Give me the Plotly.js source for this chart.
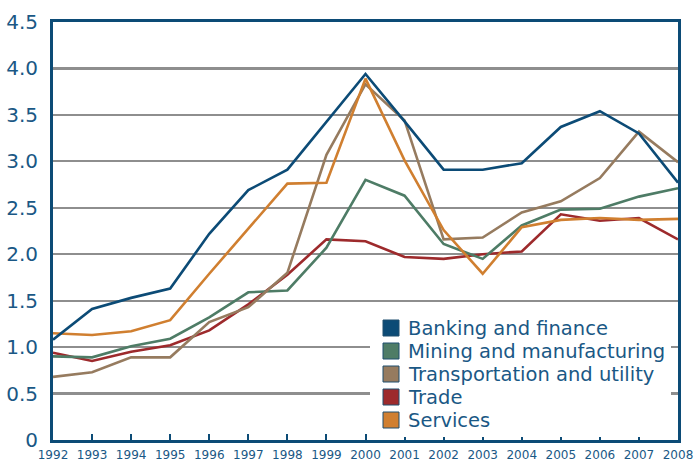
<!DOCTYPE html>
<html>
<head>
<meta charset="utf-8">
<script src="https://cdn.plot.ly/plotly-3.0.1.min.js"></script>
<style>html,body{margin:0;padding:0;background:#fff;}#chart{width:694px;height:463px;}</style>
</head>
<body>
<div id="chart"></div>
<script>
var years = [1992,1993,1994,1995,1996,1997,1998,1999,2000,2001,2002,2003,2004,2005,2006,2007,2008];
var banking   = [1.08,1.41,1.53,1.63,2.22,2.69,2.91,3.42,3.94,3.43,2.91,2.91,2.98,3.37,3.54,3.30,2.77];
var mining    = [0.90,0.89,1.01,1.09,1.32,1.59,1.61,2.07,2.80,2.63,2.11,1.95,2.31,2.48,2.49,2.62,2.71];
var transport = [0.68,0.73,0.89,0.89,1.27,1.43,1.80,3.07,3.83,3.44,2.16,2.18,2.45,2.57,2.82,3.32,2.99];
var trade     = [0.94,0.85,0.95,1.02,1.18,1.46,1.78,2.16,2.14,1.97,1.95,2.00,2.03,2.43,2.36,2.39,2.16];
var services  = [1.15,1.13,1.17,1.29,1.79,2.28,2.76,2.77,3.89,3.01,2.26,1.79,2.29,2.37,2.39,2.37,2.38];

var seriesNames  = ['Banking and finance','Mining and manufacturing','Transportation and utility','Trade','Services'];
var seriesValues = [banking, mining, transport, trade, services];
var seriesColors = ['#0c4b76','#4e7c66','#967b5f','#9d2a2c','#d07f30'];

var yTickVals = [0,0.5,1,1.5,2,2.5,3,3.5,4,4.5];
var yTickText = ['0','0.5','1.0','1.5','2.0','2.5','3.0','3.5','4.0','4.5'];

var textColor = '#1a5885';
var axisColor = '#0c4b76';
var FONT = 'DejaVu Sans, Liberation Sans, Arial, sans-serif';

var drawOrder = [3,1,2,4,0];
var traces = drawOrder.map(function(i){
  return {
    x: years, y: seriesValues[i], name: seriesNames[i],
    type: 'scatter', mode: 'lines',
    line: {color: seriesColors[i], width: 2.6},
    showlegend: false, hoverinfo: 'skip'
  };
});

// legend built from names/colors (layout positions in paper coordinates)
var W = 625, H = 418; // plot area size
function px2x(p){ return (p - 53) / W; }
function py2y(p){ return (440 - p) / H; }
var shapes = [{
  type: 'rect', xref: 'paper', yref: 'paper', layer: 'above',
  x0: px2x(370), x1: px2x(671), y0: py2y(437), y1: py2y(313),
  fillcolor: '#ffffff', line: {width: 0}
}];
var annotations = [];
seriesNames.forEach(function(n, i){
  var cy = 328 + i * 23;
  shapes.push({
    type: 'rect', xref: 'paper', yref: 'paper', layer: 'above',
    x0: px2x(383), x1: px2x(399), y0: py2y(cy + 8), y1: py2y(cy - 8),
    fillcolor: seriesColors[i], line: {color: '#1f4f6f', width: 1}
  });
  annotations.push({
    xref: 'paper', yref: 'paper', x: px2x(406), y: py2y(cy),
    xanchor: 'left', yanchor: 'middle', showarrow: false,
    text: n, font: {family: FONT, size: 19.5, color: textColor}
  });
});

var layout = {
  width: 694, height: 463,
  margin: {l: 53, r: 16, t: 22, b: 23, pad: 0},
  paper_bgcolor: '#ffffff', plot_bgcolor: '#ffffff',
  showlegend: false,
  font: {family: FONT, color: textColor},
  xaxis: {
    range: [1992, 2008], tickvals: years, ticktext: years.map(String),
    showgrid: false, zeroline: false,
    showline: true, linecolor: axisColor, linewidth: 3, mirror: true,
    ticks: 'inside', ticklen: 6, tickwidth: 2, tickcolor: axisColor,
    tickfont: {family: FONT, size: 12, color: textColor},
    ticklabelstandoff: 2
  },
  yaxis: {
    range: [0, 4.5], tickvals: yTickVals, ticktext: yTickText,
    showgrid: true, gridcolor: '#8e8e8e', gridwidth: 2.2, zeroline: false,
    showline: true, linecolor: axisColor, linewidth: 3, mirror: true,
    ticks: '', tickfont: {family: FONT, size: 20, color: textColor},
    ticklabelstandoff: 8
  },
  shapes: shapes,
  annotations: annotations
};

Plotly.newPlot('chart', traces, layout, {staticPlot: true, displayModeBar: false});
</script>
</body>
</html>
